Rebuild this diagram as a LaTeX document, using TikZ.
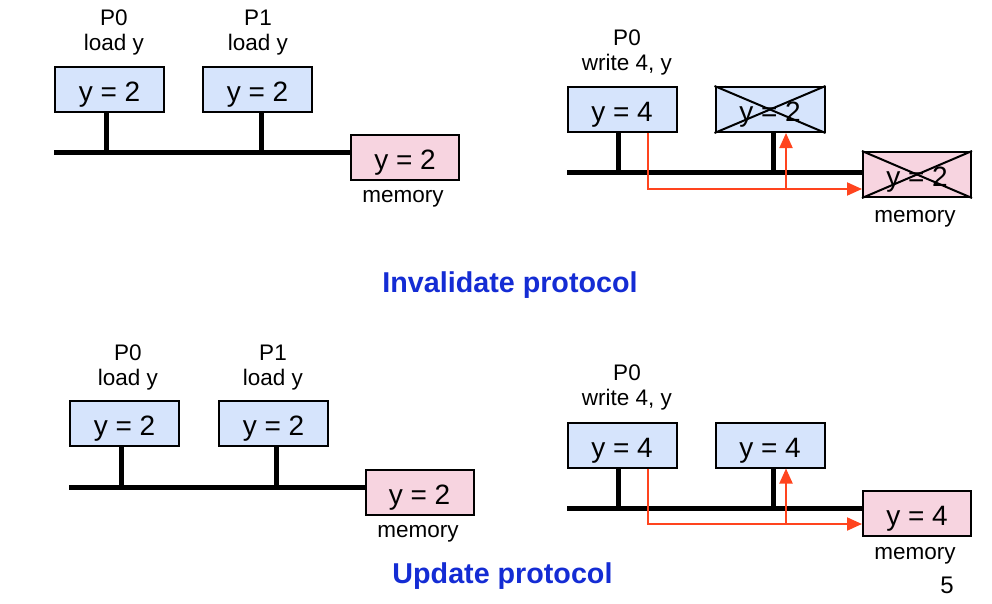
\documentclass[tikz,border=0pt]{standalone}
\usepackage{fontspec}
\setmainfont{Liberation Sans}
\usetikzlibrary{arrows.meta}
\definecolor{cacheblue}{RGB}{214,228,252}
\definecolor{mempink}{RGB}{247,212,224}
\definecolor{titleblue}{RGB}{20,44,212}
\definecolor{arrred}{RGB}{255,68,30}
\tikzset{
  valbox/.style={draw=black, line width=2pt, minimum height=45pt, inner sep=0pt, text height=24pt, text depth=0pt, font=\fontsize{28}{30}\selectfont},
  cachebox/.style={valbox, fill=cacheblue, minimum width=109pt},
  membox/.style={valbox, fill=mempink, minimum width=108pt},
  lbl/.style={align=center, inner sep=0pt, anchor=base, font=\fontsize{22.5}{25}\selectfont},
  buswire/.style={line width=5pt, line cap=butt},
  redarr/.style={draw=arrred, line width=2pt, -{Triangle[length=15pt,width=13pt]}},
  crossline/.style={line width=2pt},
  titletext/.style={text=titleblue, anchor=base, font=\fontsize{28.7}{32}\selectfont\bfseries, inner sep=0pt}
}
\begin{document}
\begin{tikzpicture}[x=1pt,y=-1pt]
\useasboundingbox (0,0) rectangle (992,603);

% ---------- top left ----------
\node[cachebox] (tl0) at (109.5,89.5) {y = 2};
\node[cachebox] (tl1) at (257.5,89.5) {y = 2};
\node[membox] (tlm) at (405,157.5) {y = 2};
\node[lbl] (tlp0) at (114,50) {P0\\load y};
\node[lbl] (tlp1) at (258,50) {P1\\load y};
\node[lbl] (tlml) at (403,202) {memory};
\coordinate (tlbus) at (54,152);
\draw[buswire] (tlbus) -- (tlm.west |- tlbus);
\coordinate (tls0) at ([xshift=-3.5pt]tl0.south);
\coordinate (tls1) at ([xshift=3.5pt]tl1.south);
\draw[buswire] (tls0) -- (tls0 |- tlbus);
\draw[buswire] (tls1) -- (tls1 |- tlbus);

% ---------- top right ----------
\node[cachebox] (tr0) at (622,109.5) {y = 4};
\node[cachebox] (tr1) at (770,109.5) {y = 2};
\node[membox] (trm) at (917,174.5) {y = 2};
\draw[crossline] (tr1.north west) -- (tr1.south east);
\draw[crossline] (tr1.south west) -- (tr1.north east);
\draw[crossline] (trm.north west) -- (trm.south east);
\draw[crossline] (trm.south west) -- (trm.north east);
\node[lbl] (trp0) at (627,70) {P0\\write 4, y};
\node[lbl] (trml) at (915,222) {memory};
\coordinate (trbus) at (567,172);
\draw[buswire] (trbus) -- (trm.west |- trbus);
\coordinate (trs0) at ([xshift=-4pt]tr0.south);
\coordinate (trs1) at ([xshift=3pt]tr1.south);
\draw[buswire] (trs0) -- (trs0 |- trbus);
\draw[buswire] (trs1) -- (trs1 |- trbus);
\coordinate (trd) at (648,189);
\coordinate (trb) at ([xshift=16pt]tr1.south);
\draw[redarr] ([xshift=26pt]tr0.south) |- (trm.west |- trd);
\draw[redarr] (trb |- trd) -- (trb);

\node[titletext] (tinv) at (510,292) {Invalidate protocol};

% ---------- bottom left ----------
\node[cachebox] (bl0) at (124.5,423.5) {y = 2};
\node[cachebox] (bl1) at (273.5,423.5) {y = 2};
\node[membox] (blm) at (419.5,492.5) {y = 2};
\node[lbl] (blp0) at (128,385) {P0\\load y};
\node[lbl] (blp1) at (273,385) {P1\\load y};
\node[lbl] (blml) at (418,537) {memory};
\coordinate (blbus) at (69,487);
\draw[buswire] (blbus) -- (blm.west |- blbus);
\coordinate (bls0) at ([xshift=-3.5pt]bl0.south);
\coordinate (bls1) at ([xshift=3pt]bl1.south);
\draw[buswire] (bls0) -- (bls0 |- blbus);
\draw[buswire] (bls1) -- (bls1 |- blbus);

% ---------- bottom right ----------
\node[cachebox] (br0) at (622,445) {y = 4};
\node[cachebox] (br1) at (770,445) {y = 4};
\node[membox] (brm) at (917,513.5) {y = 4};
\node[lbl] (brp0) at (627,405) {P0\\write 4, y};
\node[lbl] (brml) at (915,559) {memory};
\coordinate (brbus) at (567,508);
\draw[buswire] (brbus) -- (brm.west |- brbus);
\coordinate (brs0) at ([xshift=-4pt]br0.south);
\coordinate (brs1) at ([xshift=3pt]br1.south);
\draw[buswire] (brs0) -- (brs0 |- brbus);
\draw[buswire] (brs1) -- (brs1 |- brbus);
\coordinate (brd) at (648,524);
\coordinate (brb) at ([xshift=16pt]br1.south);
\draw[redarr] ([xshift=26pt]br0.south) |- (brm.west |- brd);
\draw[redarr] (brb |- brd) -- (brb);

\node[titletext] (tupd) at (502.5,583) {Update protocol};
\node[inner sep=0pt, anchor=base, font=\fontsize{24}{28}\selectfont] (pnum) at (947,593) {5};
\end{tikzpicture}
\end{document}
